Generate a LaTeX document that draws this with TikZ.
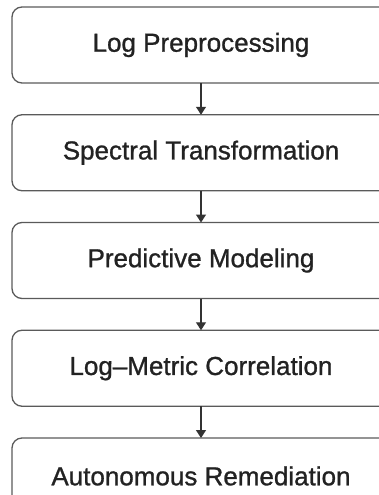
\documentclass[tikz,border=0pt]{standalone}
\usepackage{fontspec}
\setmainfont{Liberation Sans}
\newfontfamily\stagefont[Ligatures=TeX,FakeBold=1]{Liberation Sans}
\usetikzlibrary{positioning,arrows.meta}

\definecolor{boxline}{HTML}{5A5A5A}
\definecolor{arrowcol}{HTML}{333333}
\definecolor{textcol}{HTML}{222222}

\tikzset{
    stage/.style={draw=boxline, line width=1.3pt, rounded corners=10pt,
        outer sep=0pt, minimum width=378pt, minimum height=76pt,
        text=textcol, font=\stagefont\fontsize{26}{31}\selectfont},
    flow/.style={draw=arrowcol, line width=1.3pt,
        -{Triangle[width=10pt,length=8pt]}}
}

\begin{document}
\begin{tikzpicture}[node distance=31.75pt]
    \useasboundingbox (0,0) rectangle (379pt,-495pt);
    \clip (0,0) rectangle (379pt,-495pt);
    \node[stage] (prep) at (201pt,-45pt) {Log Preprocessing};
    \node[stage, below=of prep] (spec) {Spectral Transformation};
    \node[stage, below=of spec] (pred) {Predictive Modeling};
    \node[stage, below=of pred] (corr) {Log--Metric Correlation};
    \node[stage, below=of corr] (remed) {Autonomous Remediation};
    \draw[flow] (prep) -- (spec);
    \draw[flow] (spec) -- (pred);
    \draw[flow] (pred) -- (corr);
    \draw[flow] (corr) -- (remed);
\end{tikzpicture}
\end{document}
